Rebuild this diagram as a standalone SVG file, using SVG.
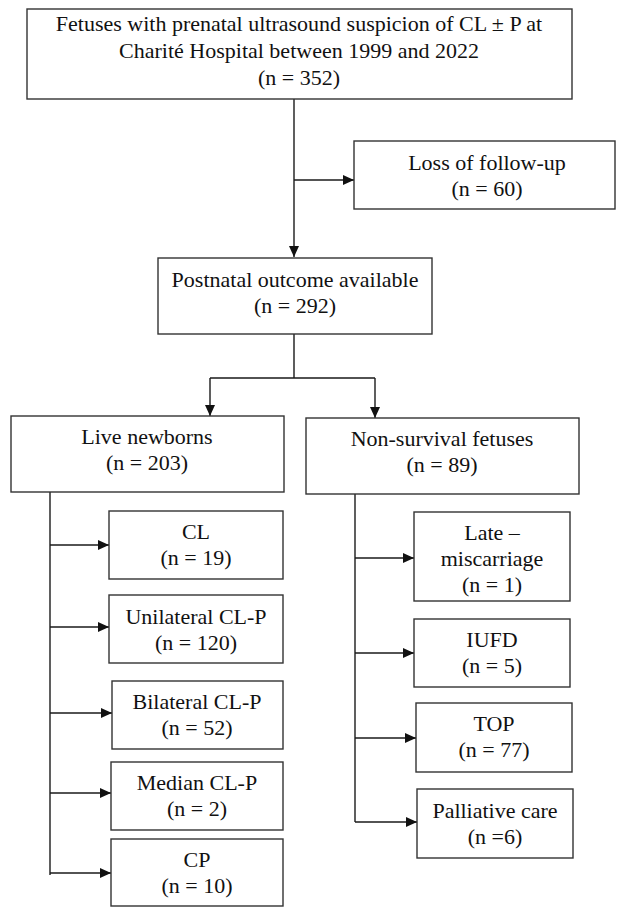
<svg xmlns="http://www.w3.org/2000/svg" width="624" height="908" viewBox="0 0 624 908">
<defs>
<marker id="ah" markerWidth="11" markerHeight="10" refX="11" refY="5" orient="auto" markerUnits="userSpaceOnUse">
<path d="M0,0 L11,5 L0,10 Z" fill="#111"/>
</marker>
</defs>
<style>
.box{fill:#fff;stroke:#333;stroke-width:1.4}
.t{font-family:"Liberation Serif","DejaVu Serif","Times New Roman",serif;font-size:22px;fill:#111;text-anchor:middle}
.c{fill:none;stroke:#1a1a1a;stroke-width:1.4}
.a{fill:none;stroke:#1a1a1a;stroke-width:1.4;marker-end:url(#ah)}
</style>
<rect width="624" height="908" fill="#fff"/>
<g id="connectors">
<path class="c" d="M294,99 V180"/>
<path class="a" d="M294,180 H354"/>
<path class="a" d="M294,180 V257"/>
<path class="c" d="M294,334 V378 M210,378 H375"/>
<path class="a" d="M210,378 V416"/>
<path class="a" d="M375,378 V418"/>
<path class="c" d="M50,492 V875"/>
<path class="a" d="M50,545 H109"/>
<path class="a" d="M50,627 H109"/>
<path class="a" d="M50,713 H112"/>
<path class="a" d="M50,793 H111"/>
<path class="a" d="M50,873 H111"/>
<path class="c" d="M355,494 V822"/>
<path class="a" d="M355,558 H414"/>
<path class="a" d="M355,653 H414"/>
<path class="a" d="M355,738 H416"/>
<path class="a" d="M355,822 H417"/>
</g>
<g id="n-top"><rect class="box" x="27" y="9" width="545" height="90"/>
<text class="t" x="299" y="31">Fetuses with prenatal ultrasound suspicion of CL ± P at</text>
<text class="t" x="299" y="58">Charité Hospital between 1999 and 2022</text>
<text class="t" x="299" y="85">(n = 352)</text></g>
<g id="n-loss"><rect class="box" x="354" y="141" width="261" height="68"/>
<text class="t" x="487" y="170">Loss of follow-up</text>
<text class="t" x="487" y="196">(n = 60)</text></g>
<g id="n-postnatal"><rect class="box" x="158" y="258" width="274" height="76"/>
<text class="t" x="295" y="287">Postnatal outcome available</text>
<text class="t" x="295" y="313">(n = 292)</text></g>
<g id="n-live"><rect class="box" x="11" y="416" width="273" height="76"/>
<text class="t" x="147" y="444">Live newborns</text>
<text class="t" x="147" y="470">(n = 203)</text></g>
<g id="n-nonsurv"><rect class="box" x="306" y="418" width="273" height="76"/>
<text class="t" x="442" y="446">Non-survival fetuses</text>
<text class="t" x="442" y="472">(n = 89)</text></g>
<g id="n-cl"><rect class="box" x="109" y="511" width="174" height="68"/>
<text class="t" x="196" y="539">CL</text>
<text class="t" x="196" y="565">(n = 19)</text></g>
<g id="n-uni"><rect class="box" x="109" y="595" width="174" height="68"/>
<text class="t" x="196" y="624">Unilateral CL-P</text>
<text class="t" x="196" y="650">(n = 120)</text></g>
<g id="n-bi"><rect class="box" x="112" y="681" width="171" height="68"/>
<text class="t" x="197" y="709">Bilateral CL-P</text>
<text class="t" x="197" y="735">(n = 52)</text></g>
<g id="n-med"><rect class="box" x="111" y="762" width="172" height="68"/>
<text class="t" x="197" y="790">Median CL-P</text>
<text class="t" x="197" y="816">(n = 2)</text></g>
<g id="n-cp"><rect class="box" x="111" y="839" width="172" height="67"/>
<text class="t" x="197" y="867">CP</text>
<text class="t" x="197" y="893">(n = 10)</text></g>
<g id="n-late"><rect class="box" x="414" y="512" width="156" height="89"/>
<text class="t" x="492" y="540">Late –</text>
<text class="t" x="492" y="566">miscarriage</text>
<text class="t" x="492" y="592">(n = 1)</text></g>
<g id="n-iufd"><rect class="box" x="414" y="619" width="156" height="68"/>
<text class="t" x="492" y="647">IUFD</text>
<text class="t" x="492" y="673">(n = 5)</text></g>
<g id="n-top2"><rect class="box" x="416" y="703" width="156" height="69"/>
<text class="t" x="494" y="731">TOP</text>
<text class="t" x="494" y="757">(n = 77)</text></g>
<g id="n-pall"><rect class="box" x="417" y="789" width="156" height="69"/>
<text class="t" x="495" y="818">Palliative care</text>
<text class="t" x="495" y="844">(n =6)</text></g>
</svg>
